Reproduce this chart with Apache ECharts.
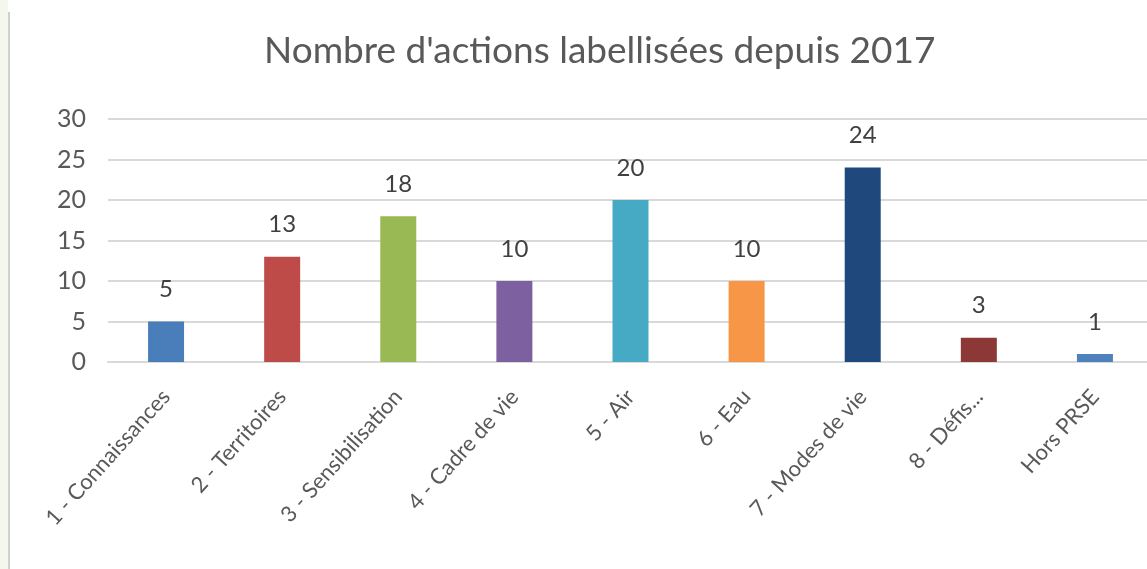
<!DOCTYPE html>
<html>
<head>
<meta charset="utf-8">
<script src="https://cdn.jsdelivr.net/npm/echarts@6/dist/echarts.min.js"></script>
<style>
  html, body { margin: 0; padding: 0; background: #fff; overflow: hidden; }
  #chart { width: 1153px; height: 569px; }
</style>
</head>
<body>
<div id="chart"></div>
<script>
const categories = ['1 - Connaissances', '2 - Territoires', '3 - Sensibilisation', '4 - Cadre de vie',
  '5 - Air', '6 - Eau', '7 - Modes de vie', '8 - Défis...', 'Hors PRSE'];
const values = [5, 13, 18, 10, 20, 10, 24, 3, 1];
const barColors = ['#4a7ebb', '#be4b48', '#98b954', '#7d60a0', '#46aac5', '#f79646', '#1f497d', '#8c3836', '#4f81bd'];
const yTicks = [0, 5, 10, 15, 20, 25, 30];

const chart = echarts.init(document.getElementById('chart'));
const font = 'Lato, sans-serif';

chart.setOption({
  animation: false,
  backgroundColor: '#fff',
  textStyle: { fontFamily: font, color: '#595959' },
  title: {
    text: "Nombre d'actions labellisées depuis 2017",
    left: 259,
    top: 28,
    textStyle: { fontFamily: font, fontSize: 37, fontWeight: 'normal', color: '#595959' }
  },
  graphic: [
    { type: 'rect', shape: { x: 0, y: 0, width: 8, height: 569 }, style: { fill: '#f3f7ec' } },
    { type: 'line', shape: { x1: 9, y1: 12, x2: 9, y2: 569 }, style: { stroke: '#d0d0d0', lineWidth: 2 } }
  ],
  grid: { left: 108, right: 0, top: 119, bottom: 207, containLabel: false },
  xAxis: {
    type: 'category',
    data: categories,
    axisTick: { show: false },
    axisLine: { lineStyle: { color: '#d9d9d9', width: 2 } },
    axisLabel: {
      rotate: 48, interval: 0, margin: 31,
      fontFamily: font, fontSize: 22, color: '#595959'
    }
  },
  yAxis: {
    type: 'value',
    min: yTicks[0],
    max: yTicks[yTicks.length - 1],
    interval: 5,
    axisLine: { show: false },
    axisTick: { show: false },
    splitLine: { lineStyle: { color: '#d9d9d9', width: 2 } },
    axisLabel: { fontFamily: font, fontSize: 25, color: '#595959', margin: 22 }
  },
  series: [{
    type: 'bar',
    barWidth: 36,
    data: values.map((v, i) => ({ value: v, itemStyle: { color: barColors[i] } })),
    label: {
      show: true, position: 'top', distance: 20,
      fontFamily: font, fontSize: 24, color: '#404040'
    }
  }]
});
</script>
</body>
</html>
